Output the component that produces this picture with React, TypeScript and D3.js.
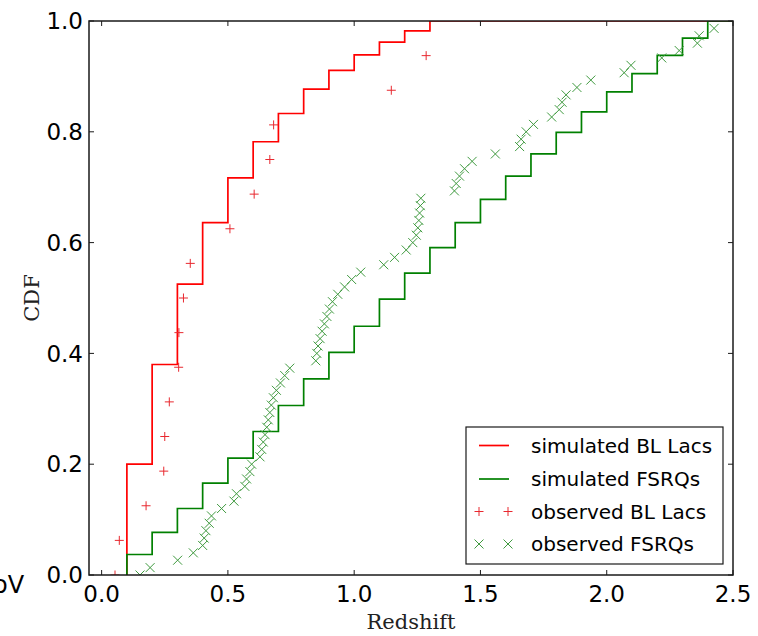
import React from "react";
import * as d3 from "d3";

// ---- data ----
const simBLEdges = [0.1, 0.2, 0.3, 0.4, 0.5, 0.6, 0.7, 0.8, 0.9, 1.0, 1.1, 1.2, 1.3];
const simBLCdf = [0.2, 0.38, 0.525, 0.636, 0.717, 0.782, 0.833, 0.877, 0.911, 0.939, 0.962, 0.982, 1.0];

const simFSEdges = [0.1, 0.2, 0.3, 0.4, 0.5, 0.6, 0.7, 0.8, 0.9, 1.0, 1.1, 1.2, 1.3, 1.4, 1.5, 1.6, 1.7, 1.8, 1.9, 2.0, 2.1, 2.2, 2.3, 2.4];
const simFSCdf = [0.037, 0.077, 0.12, 0.166, 0.211, 0.259, 0.306, 0.354, 0.402, 0.449, 0.498, 0.545, 0.591, 0.636, 0.678, 0.72, 0.76, 0.799, 0.836, 0.872, 0.905, 0.938, 0.969, 1.0];

// observed redshifts (sorted); CDF = rank / N
const obsBL = [0.053, 0.07, 0.176, 0.246, 0.25, 0.268, 0.305, 0.306, 0.324, 0.351, 0.508, 0.604, 0.666, 0.681, 1.147, 1.285];
const obsFS = [
  0.152, 0.192, 0.301, 0.363, 0.4, 0.406, 0.413, 0.426, 0.435, 0.475, 0.524, 0.534, 0.567, 0.574, 0.587, 0.594, 0.627, 0.634,
  0.64, 0.647, 0.654, 0.66, 0.666, 0.672, 0.68, 0.692, 0.708, 0.725, 0.745,
  0.848, 0.852, 0.857, 0.865, 0.873, 0.882, 0.892, 0.902, 0.914, 0.935, 0.962, 0.99, 1.026,
  1.117, 1.16, 1.206, 1.232, 1.246, 1.252, 1.256, 1.259, 1.262, 1.264,
  1.397, 1.404, 1.417, 1.437, 1.467, 1.559, 1.655, 1.661, 1.681, 1.71, 1.782, 1.812, 1.823, 1.839, 1.882, 1.937,
  2.069, 2.096, 2.218, 2.287, 2.359, 2.366, 2.425,
];

const xTicks = [0, 0.5, 1.0, 1.5, 2.0, 2.5];
const yTicks = [0, 0.2, 0.4, 0.6, 0.8, 1.0];
const legendLabels = ["simulated BL Lacs", "simulated FSRQs", "observed BL Lacs", "observed FSRQs"];

const RED = "#ff0000";
const GREEN = "#008000";

export default function App() {
  const L = 89, R = 733, T = 21, B = 575;
  const x = d3.scaleLinear().domain([-0.05, 2.5]).range([L, R]);
  const y = d3.scaleLinear().domain([0, 1]).range([B, T]);

  const line = d3
    .line<[number, number]>()
    .x((d) => x(d[0]))
    .y((d) => y(d[1]))
    .curve(d3.curveStepAfter);

  const stepPts = (edges: number[], vals: number[]): [number, number][] => {
    const pts: [number, number][] = [[edges[0], 0]];
    edges.forEach((e, i) => pts.push([e, vals[i]]));
    pts.push([2.5, vals[vals.length - 1]]);
    return pts;
  };

  const fmt = d3.format(".1f");
  const tick = 5;
  const sans = "'DejaVu Sans', sans-serif";
  const serif = "'DejaVu Serif', 'Liberation Serif', serif";

  const plus = (cx: number, cy: number, s: number, c: string, k: string) => (
    <path key={k} d={`M${cx - s},${cy}H${cx + s}M${cx},${cy - s}V${cy + s}`} stroke={c} strokeWidth={1} fill="none" />
  );
  const cross = (cx: number, cy: number, s: number, c: string, k: string) => (
    <path key={k} d={`M${cx - s},${cy - s}L${cx + s},${cy + s}M${cx - s},${cy + s}L${cx + s},${cy - s}`} stroke={c} strokeWidth={1} fill="none" />
  );

  const legX = 466, legY = 427, legW = 257, legH = 137;
  const rowY = [445.5, 479, 511.5, 544];

  return (
    <svg width={758} height={636} style={{ position: "absolute", left: 0, top: 0, background: "#fff" }}>
      <defs>
        <clipPath id="plot">
          <rect x={L} y={T} width={R - L} height={B - T} />
        </clipPath>
      </defs>
      <rect x={0} y={0} width={758} height={636} fill="#fff" />
      <g clipPath="url(#plot)">
        <path d={line(stepPts(simBLEdges, simBLCdf)) || ""} fill="none" stroke={RED} strokeWidth={1.7} />
        <path d={line(stepPts(simFSEdges, simFSCdf)) || ""} fill="none" stroke={GREEN} strokeWidth={1.7} />
        {obsBL.map((v, i) => plus(x(v), y(i / obsBL.length), 4.5, "#e8282f", "b" + i))}
        {obsFS.map((v, i) => cross(x(v), y(i / obsFS.length), 4.5, "#3f9a3f", "f" + i))}
      </g>
      {/* frame */}
      <rect x={L} y={T} width={R - L} height={B - T} fill="none" stroke="#1a1a1a" strokeWidth={1.5} />
      {/* ticks */}
      {xTicks.map((t) => (
        <g key={"xt" + t}>
          <line x1={x(t)} x2={x(t)} y1={B} y2={B - tick} stroke="#1a1a1a" strokeWidth={1} />
          <line x1={x(t)} x2={x(t)} y1={T} y2={T + tick} stroke="#1a1a1a" strokeWidth={1} />
          <text x={x(t)} y={602} textAnchor="middle" fontFamily={sans} fontSize={23} fill="#000">
            {fmt(t)}
          </text>
        </g>
      ))}
      {yTicks.map((t) => (
        <g key={"yt" + t}>
          <line x1={L} x2={L + tick} y1={y(t)} y2={y(t)} stroke="#1a1a1a" strokeWidth={1} />
          <line x1={R} x2={R - tick} y1={y(t)} y2={y(t)} stroke="#1a1a1a" strokeWidth={1} />
          <text x={83} y={y(t)} dy="0.36em" textAnchor="end" fontFamily={sans} fontSize={23} fill="#000">
            {fmt(t)}
          </text>
        </g>
      ))}
      {/* axis labels */}
      <text x={(L + R) / 2} y={629} textAnchor="middle" fontFamily={serif} fontSize={21} fill="#222">
        Redshift
      </text>
      <text transform={`translate(39,${(T + B) / 2}) rotate(-90)`} textAnchor="middle" fontFamily={serif} fontSize={21} fill="#222">
        CDF
      </text>
      <text x={-7} y={593} fontFamily={sans} fontSize={24} fill="#000">
        oV
      </text>
      {/* legend */}
      <rect x={legX} y={legY} width={legW} height={legH} fill="#fff" stroke="#1a1a1a" strokeWidth={1.2} />
      {legendLabels.map((lab, i) => {
        const cy = rowY[i];
        let sym: React.ReactNode = null;
        if (i === 0) sym = <line x1={479} x2={509} y1={cy} y2={cy} stroke={RED} strokeWidth={1.7} />;
        if (i === 1) sym = <line x1={479} x2={509} y1={cy} y2={cy} stroke={GREEN} strokeWidth={1.7} />;
        if (i === 2) sym = <g>{plus(479, cy, 4.5, "#e8282f", "l1")}{plus(508, cy, 4.5, "#e8282f", "l2")}</g>;
        if (i === 3) sym = <g>{cross(479, cy, 4.5, "#3f9a3f", "l3")}{cross(508, cy, 4.5, "#3f9a3f", "l4")}</g>;
        return (
          <g key={lab}>
            {sym}
            <text x={531} y={cy} dy="0.36em" fontFamily={sans} fontSize={20} fill="#000">
              {lab}
            </text>
          </g>
        );
      })}
    </svg>
  );
}
